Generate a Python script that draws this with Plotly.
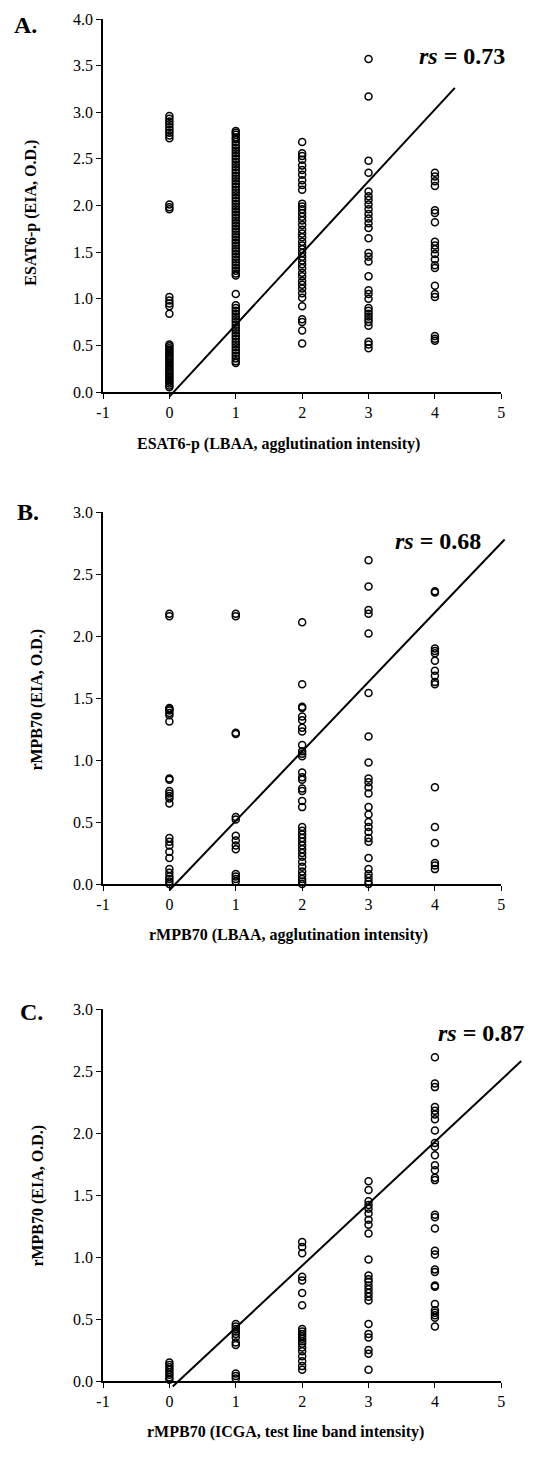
import plotly.graph_objects as go
import numpy as np

# ---------------- data ----------------
levels = [0, 1, 2, 3, 4]
x_ticks = [-1, 0, 1, 2, 3, 4, 5]
x_tick_text = ["-1", "0", "1", "2", "3", "4", "5"]

# Panel A: ESAT6-p, EIA O.D. by LBAA agglutination intensity
A_0 = [2.96, 2.93, 2.90, 2.87, 2.84, 2.81, 2.78, 2.75, 2.72,
       2.01, 1.98, 1.96,
       1.02, 0.98, 0.95, 0.92, 0.84,
       0.51, 0.49, 0.47, 0.45, 0.43, 0.41, 0.39, 0.37, 0.35, 0.33, 0.31, 0.29,
       0.27, 0.25, 0.23, 0.21, 0.19, 0.17, 0.15, 0.13, 0.11, 0.09, 0.07, 0.05]
A_1 = [2.80, 2.78, 2.76, 2.73, 2.71, 2.68, 2.65, 2.62, 2.59, 2.56, 2.53, 2.50,
       2.47, 2.44, 2.41, 2.38, 2.35, 2.32, 2.29, 2.26, 2.23, 2.20, 2.17, 2.14,
       2.11, 2.08, 2.05, 2.02, 1.99, 1.96, 1.93, 1.90, 1.87, 1.84, 1.81, 1.78,
       1.75, 1.72, 1.69, 1.66, 1.63, 1.60, 1.57, 1.54, 1.51, 1.48, 1.45, 1.42,
       1.39, 1.36, 1.33, 1.30, 1.27, 1.25,
       1.05, 0.93, 0.90, 0.87, 0.84, 0.81, 0.78, 0.75, 0.72, 0.69, 0.66, 0.63,
       0.60, 0.57, 0.54, 0.51, 0.48, 0.45, 0.42, 0.39, 0.36, 0.33, 0.31]
A_2 = [2.68, 2.56, 2.53, 2.49, 2.43, 2.38, 2.33, 2.27, 2.22, 2.17,
       2.02, 1.99, 1.96, 1.92, 1.88, 1.84, 1.79, 1.74, 1.70, 1.66, 1.61, 1.57,
       1.53, 1.49, 1.45, 1.41, 1.37, 1.33, 1.28, 1.24, 1.19, 1.15, 1.11, 1.06,
       1.01, 0.92, 0.78, 0.75, 0.66, 0.52]
A_3 = [3.57, 3.17, 2.48, 2.35, 2.15, 2.10, 2.06, 2.01, 1.96, 1.91, 1.86, 1.81,
       1.76, 1.65, 1.49, 1.45, 1.40, 1.24, 1.09, 1.05, 1.00, 0.90, 0.87, 0.84,
       0.81, 0.78, 0.75, 0.71, 0.54, 0.51, 0.47]
A_4 = [2.35, 2.31, 2.26, 2.21, 1.95, 1.92, 1.82, 1.61, 1.57, 1.53, 1.48, 1.42,
       1.36, 1.33, 1.14, 1.05, 1.02, 0.60, 0.57, 0.55]

# Panel B: rMPB70, EIA O.D. by LBAA agglutination intensity
B_0 = [2.18, 2.16, 1.42, 1.41, 1.40, 1.38, 1.36, 1.31, 0.85, 0.84, 0.75, 0.73,
       0.71, 0.69, 0.65, 0.37, 0.34, 0.31, 0.26, 0.21, 0.12, 0.09, 0.06, 0.04,
       0.02, 0.00]
B_1 = [2.18, 2.16, 1.22, 1.21, 0.54, 0.52, 0.39, 0.35, 0.31, 0.28,
       0.08, 0.06, 0.04, 0.02]
B_2 = [2.11, 1.61, 1.43, 1.42, 1.35, 1.32, 1.26, 1.23, 1.12, 1.07, 1.05, 1.03,
       0.90, 0.86, 0.84, 0.77, 0.75, 0.67, 0.62, 0.46, 0.43, 0.40, 0.37, 0.34,
       0.31, 0.28, 0.25, 0.22, 0.18, 0.14, 0.10, 0.07, 0.04, 0.02, 0.00]
B_3 = [2.61, 2.40, 2.21, 2.18, 2.02, 1.54, 1.19, 0.98, 0.85, 0.82, 0.78, 0.73,
       0.62, 0.56, 0.50, 0.46, 0.42, 0.37, 0.34, 0.21, 0.12, 0.08, 0.05, 0.02,
       0.00]
B_4 = [2.36, 2.35, 1.90, 1.88, 1.86, 1.80, 1.72, 1.68, 1.63, 1.61, 0.78, 0.46,
       0.33, 0.17, 0.15, 0.12]

# Panel C: rMPB70, EIA O.D. by ICGA test line band intensity
C_0 = [0.15, 0.13, 0.11, 0.09, 0.07, 0.05, 0.03, 0.01]
C_1 = [0.46, 0.44, 0.42, 0.40, 0.38, 0.35, 0.31, 0.29, 0.06, 0.04, 0.02]
C_2 = [1.12, 1.08, 1.03, 0.84, 0.81, 0.71, 0.61, 0.42, 0.40, 0.38, 0.36, 0.34,
       0.32, 0.30, 0.27, 0.24, 0.20, 0.16, 0.12, 0.09]
C_3 = [1.61, 1.54, 1.45, 1.42, 1.39, 1.35, 1.30, 1.26, 1.19, 0.98, 0.85, 0.82,
       0.80, 0.77, 0.74, 0.71, 0.68, 0.65, 0.46, 0.38, 0.35, 0.25, 0.22, 0.09]
C_4 = [2.61, 2.40, 2.37, 2.21, 2.18, 2.15, 2.11, 2.02, 1.92, 1.89, 1.82, 1.74,
       1.70, 1.64, 1.62, 1.34, 1.32, 1.23, 1.05, 1.02, 0.90, 0.88, 0.77, 0.76,
       0.62, 0.57, 0.55, 0.53, 0.51, 0.44]

# regression lines
fit_slope = [0.77, 0.56, 0.50]
fit_intercept = [-0.05, -0.05, -0.07]
fit_x_start = [0.0, 0.0, 0.05]
fit_x_end = [4.3, 5.05, 5.3]

y_max = [4.0, 3.0, 3.0]
y_ticks = [[0, 0.5, 1.0, 1.5, 2.0, 2.5, 3.0, 3.5, 4.0],
           [0, 0.5, 1.0, 1.5, 2.0, 2.5, 3.0],
           [0, 0.5, 1.0, 1.5, 2.0, 2.5, 3.0]]
panel_labels = ["A.", "B.", "C."]
rs_values = ["0.73", "0.68", "0.87"]
x_titles = ["ESAT6-p (LBAA, agglutination intensity)",
            "rMPB70 (LBAA, agglutination intensity)",
            "rMPB70 (ICGA, test line band intensity)"]
y_titles = ["ESAT6-p (EIA, O.D.)", "rMPB70 (EIA, O.D.)", "rMPB70 (EIA, O.D.)"]
columns = [[A_0, A_1, A_2, A_3, A_4],
           [B_0, B_1, B_2, B_3, B_4],
           [C_0, C_1, C_2, C_3, C_4]]

# ---------------- layout geometry (pixels) ----------------
W, H = 539, 1459
ML, MR, MT, MB = 103, 0, 19, 50
PW, PH = W - ML - MR, H - MT - MB
X_RIGHT = 505
panel_px = [(19, 392), (512, 884), (1009, 1381)]   # top, bottom pixel rows
rs_pos = [(465, 56), (441, 541), (484, 1033)]
lab_pos = [(25, 25), (27, 512), (31, 1012)]
xt_pos = [(280, 444), (290, 935), (287, 1432)]
yt_pos = [(30, 213), (36, 700), (37, 1196)]

def pxx(X):
    return (X - ML) / PW

def pxy(Y):
    return (H - MB - Y) / PH

FONT = "Liberation Serif"
fig = go.Figure()
layout = dict(width=W, height=H, margin=dict(l=ML, r=MR, t=MT, b=MB),
              paper_bgcolor="white", plot_bgcolor="rgba(0,0,0,0)",
              showlegend=False, font=dict(family=FONT, color="black"))
annotations = []
xdom_right = pxx(X_RIGHT)
x_over_max = -1 + 6 / xdom_right
EXT = 10  # px allowed below axis for fit line

def label(text, pos, size, angle=0):
    return dict(text=text, xref="paper", yref="paper", x=pxx(pos[0]), y=pxy(pos[1]),
                xanchor="center", yanchor="middle", textangle=angle,
                showarrow=False, font=dict(size=size, family=FONT, color="black"))

for i in range(3):
    top, bot = panel_px[i]
    n = i + 1
    xa = "x" if n == 1 else f"x{n}"
    ya = "y" if n == 1 else f"y{n}"
    ax_common = dict(showline=True, linecolor="black", linewidth=1.5,
                     ticks="outside", ticklen=5, tickwidth=1.2, tickcolor="black",
                     showgrid=False, zeroline=False,
                     tickfont=dict(family=FONT, size=16, color="black"))
    layout["xaxis" if n == 1 else f"xaxis{n}"] = dict(
        ax_common, domain=[0, xdom_right], range=[-1, 5], tickvals=x_ticks,
        ticktext=x_tick_text, anchor=ya, fixedrange=True)
    layout["yaxis" if n == 1 else f"yaxis{n}"] = dict(
        ax_common, domain=[pxy(bot), pxy(top)], range=[0, y_max[i]],
        tickvals=y_ticks[i], tickformat=".1f", anchor=xa, fixedrange=True)
    # overlay axes for regression line (allow it to run past the axis end)
    on = n + 3
    ext_units = y_max[i] * EXT / (bot - top)
    layout[f"xaxis{on}"] = dict(visible=False, domain=[0, 1],
                                range=[-1, x_over_max], anchor=f"y{on}")
    layout[f"yaxis{on}"] = dict(visible=False, domain=[pxy(bot + EXT), pxy(top)],
                                range=[-ext_units, y_max[i]], anchor=f"x{on}")

    xs, ys = [], []
    for lv, col in zip(levels, columns[i]):
        xs += [lv] * len(col)
        ys += col
    fig.add_trace(go.Scatter(x=xs, y=ys, mode="markers", xaxis=xa, yaxis=ya,
                             cliponaxis=False,
                             marker=dict(symbol="circle-open", size=7, color="black",
                                         line=dict(width=1.5, color="black"))))
    lx = np.array([fit_x_start[i], fit_x_end[i]])
    ly = fit_slope[i] * lx + fit_intercept[i]
    fig.add_trace(go.Scatter(x=lx, y=ly, mode="lines", xaxis=f"x{on}", yaxis=f"y{on}",
                             line=dict(color="black", width=2)))

    annotations.append(label(f"<b>{panel_labels[i]}</b>", lab_pos[i], 24))
    annotations.append(label(f"<b><i>rs</i> = {rs_values[i]}</b>", rs_pos[i], 24))
    annotations.append(label(f"<b>{x_titles[i]}</b>", xt_pos[i], 16))
    annotations.append(label(f"<b>{y_titles[i]}</b>", yt_pos[i], 16, -90))

layout["annotations"] = annotations
fig.update_layout(**layout)
fig.write_html("out.html")
